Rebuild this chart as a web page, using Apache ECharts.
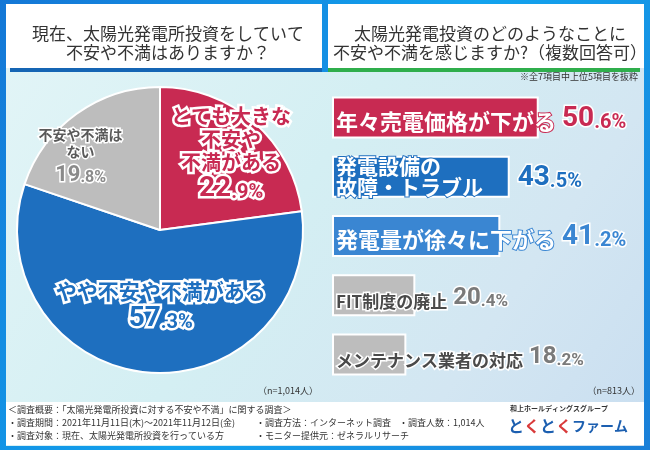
<!DOCTYPE html>
<html><head><meta charset="utf-8">
<script src="https://cdn.jsdelivr.net/npm/echarts@6/dist/echarts.min.js"></script>
<style>html,body{margin:0;padding:0;}#c{width:650px;height:450px;}</style>
</head><body><div id="c"></div>
<script>
const pieNames = ['とても大きな\n不安や\n不満がある', 'やや不安や不満がある', '不安や不満は\nない'];
const pieValues = [22.9, 57.3, 19.8];
const barCategories = ['年々売電価格が下がる', '発電設備の\n故障・トラブル', '発電量が徐々に下がる', 'FIT制度の廃止', 'メンテナンス業者の対応'];
const barValues = [50.6, 43.5, 41.2, 20.4, 18.2];
const leftTitle = '現在、太陽光発電所投資をしていて\n不安や不満はありますか？';
const rightTitle = '太陽光発電投資のどのようなことに\n不安や不満を感じますか?（複数回答可）';

const RED = '#C82A52', BLUE = '#1E6FBF', LBLUE = '#3A86D2', GRAY = '#BDBDBD';
const pieColors = [RED, BLUE, GRAY];
const barColors = [RED, BLUE, LBLUE, GRAY, GRAY];
const valColors = [RED, BLUE, LBLUE, '#7a7a7a', '#7a7a7a'];
const CJK = '"Noto Sans CJK JP", sans-serif';
const NUM = 'Roboto, "Noto Sans CJK JP", sans-serif';

function splitVal(v) {
  const s = v.toFixed(1).split('.');
  return [s[0], '.' + s[1] + '%'];
}

const chart = echarts.init(document.getElementById('c'), null, {renderer: 'canvas'});

const pieLabelDelta = [[22, -20], [8, 2], [-36, -13]];
const pieRich = {
  rt: {fontFamily: CJK, fontWeight: 'bold', fontSize: 20, lineHeight: 23, color: RED, textBorderColor: '#fff', textBorderWidth: 5},
  rb: {fontFamily: NUM, fontWeight: 'bold', fontSize: 28, lineHeight: 30, color: RED, textBorderColor: '#fff', textBorderWidth: 5, verticalAlign: 'bottom'},
  rs: {fontFamily: NUM, fontWeight: 'bold', fontSize: 20, lineHeight: 30, color: RED, textBorderColor: '#fff', textBorderWidth: 5, verticalAlign: 'bottom'},
  bt: {fontFamily: CJK, fontWeight: 'bold', fontSize: 21, lineHeight: 24, color: BLUE, textBorderColor: '#fff', textBorderWidth: 5},
  bb: {fontFamily: NUM, fontWeight: 'bold', fontSize: 28, lineHeight: 30, color: BLUE, textBorderColor: '#fff', textBorderWidth: 5, verticalAlign: 'bottom'},
  bs: {fontFamily: NUM, fontWeight: 'bold', fontSize: 20, lineHeight: 30, color: BLUE, textBorderColor: '#fff', textBorderWidth: 5, verticalAlign: 'bottom'},
  gt: {fontFamily: CJK, fontWeight: 'bold', fontSize: 14, lineHeight: 17, color: '#5a5a5a', textBorderColor: '#fff', textBorderWidth: 3},
  gb: {fontFamily: NUM, fontWeight: 'bold', fontSize: 22, lineHeight: 26, color: '#8a8a8a', textBorderColor: '#fff', textBorderWidth: 3, verticalAlign: 'bottom'},
  gs: {fontFamily: NUM, fontWeight: 'bold', fontSize: 16, lineHeight: 26, color: '#8a8a8a', textBorderColor: '#fff', textBorderWidth: 3, verticalAlign: 'bottom'}
};
const pieKeys = [['rt', 'rb', 'rs'], ['bt', 'bb', 'bs'], ['gt', 'gb', 'gs']];

const barRich = {};
barColors.forEach((c, i) => {
  const isGray = i >= 3;
  barRich['c' + i] = {
    fontFamily: CJK, fontWeight: 'bold', fontSize: isGray ? 17 : (i === 1 ? 21 : 22),
    lineHeight: i === 1 ? 21 : 30,
    color: isGray ? '#4a4a4a' : '#fff',
    textBorderColor: isGray ? '#fff' : c, textBorderWidth: isGray ? 3 : 2,
    verticalAlign: 'bottom'
  };
  barRich['b' + i] = {fontFamily: NUM, fontWeight: 'bold', fontSize: isGray ? 24 : 28, lineHeight: 30,
    color: valColors[i], textBorderColor: '#fff', textBorderWidth: 3, verticalAlign: 'bottom', padding: [0, 0, 0, 6]};
  barRich['s' + i] = {fontFamily: NUM, fontWeight: 'bold', fontSize: isGray ? 17 : 20, lineHeight: 30,
    color: valColors[i], textBorderColor: '#fff', textBorderWidth: 3, verticalAlign: 'bottom'};
});

const footStyle = {fontFamily: CJK, fontSize: 9, fill: '#333'};

const option = {
  animation: false,
  backgroundColor: 'transparent',
  graphic: [
    {type: 'rect', z: -10, shape: {x: 0, y: 0, width: 650, height: 450},
      style: {fill: new echarts.graphic.LinearGradient(0, 0, 1, 1, [{offset: 0, color: '#1477d6'}, {offset: 0.5, color: '#12a3ee'}, {offset: 1, color: '#1a7fd8'}])}},
    {type: 'rect', z: -9, shape: {x: 6, y: 4, width: 638, height: 442},
      style: {fill: new echarts.graphic.LinearGradient(0, 0, 1, 1, [{offset: 0, color: '#e3f5f7'}, {offset: 0.45, color: '#d4eff3'}, {offset: 0.75, color: '#d3e6f2'}, {offset: 1, color: '#c9def0'}])}},
    {type: 'rect', z: -8, shape: {x: 322, y: 0, width: 6, height: 72}, style: {fill: '#1590e4'}},
    {type: 'rect', z: -7, shape: {x: 6, y: 4, width: 316, height: 64}, style: {fill: '#ffffff'}},
    {type: 'rect', z: -7, shape: {x: 10, y: 68, width: 312, height: 4}, style: {fill: '#1565b4'}},
    {type: 'rect', z: -7, shape: {x: 328, y: 4, width: 316, height: 64}, style: {fill: '#ffffff'}},
    {type: 'rect', z: -7, shape: {x: 328, y: 68, width: 312, height: 4}, style: {fill: '#2fae4c'}},
    {type: 'rect', z: -7, shape: {x: 6, y: 402, width: 638, height: 43}, style: {fill: '#ffffff'}},
    {type: 'text', left: 8, top: 405, style: Object.assign({text: '＜調査概要：「太陽光発電所投資に対する不安や不満」に関する調査＞'}, footStyle)},
    {type: 'text', left: 8, top: 418, style: Object.assign({text: '・調査期間：2021年11月11日(木)～2021年11月12日(金)'}, footStyle)},
    {type: 'text', left: 256, top: 418, style: Object.assign({text: '・調査方法：インターネット調査'}, footStyle)},
    {type: 'text', left: 399, top: 418, style: Object.assign({text: '・調査人数：1,014人'}, footStyle)},
    {type: 'text', left: 8, top: 431, style: Object.assign({text: '・調査対象：現在、太陽光発電所投資を行っている方'}, footStyle)},
    {type: 'text', left: 256, top: 431, style: Object.assign({text: '・モニター提供元：ゼネラルリサーチ'}, footStyle)},
    {type: 'text', left: 510, top: 405, style: {text: '和上ホールディングスグループ', fontFamily: CJK, fontSize: 7, fontWeight: 'bold', fill: '#333'}},
    {type: 'text', left: 508, top: 418, style: {
      text: '{b|と}{r|く}{b|と}{r|く}{f|ファーム}',
      rich: {
        b: {fontFamily: CJK, fontWeight: 'bold', fontSize: 16, fill: '#1c5fb0'},
        r: {fontFamily: CJK, fontWeight: 'bold', fontSize: 16, fill: '#d93a3a'},
        f: {fontFamily: CJK, fontWeight: 'bold', fontSize: 14, fill: '#1c5fb0'}
      }}},
    {type: 'text', right: 332, top: 386, style: {text: '（n=1,014人）', fontFamily: CJK, fontSize: 9, fill: '#333'}},
    {type: 'text', right: 10, top: 386, style: {text: '（n=813人）', fontFamily: CJK, fontSize: 9, fill: '#333'}},
    {type: 'text', right: 12, top: 72, style: {text: '※全7項目中上位5項目を抜粋', fontFamily: CJK, fontSize: 9, fill: '#333'}}
  ],
  title: [
    {text: leftTitle, left: 163, top: 19, textAlign: 'center',
      textStyle: {fontFamily: CJK, fontSize: 17, fontWeight: 'normal', color: '#333', lineHeight: 19}},
    {text: rightTitle, left: 485, top: 19, textAlign: 'center',
      textStyle: {fontFamily: CJK, fontSize: 17, fontWeight: 'normal', color: '#333', lineHeight: 19}}
  ],
  grid: {left: 332, right: 32, top: 88, height: 296},
  xAxis: {type: 'value', min: 0, max: 70, show: false},
  yAxis: {type: 'category', data: barCategories, inverse: true, show: false},
  series: [
    {
      type: 'pie', center: [160, 230], radius: 143, startAngle: 90, clockwise: true,
      itemStyle: {borderColor: '#fff', borderWidth: 2},
      data: pieValues.map((v, i) => ({value: v, name: pieNames[i], itemStyle: {color: pieColors[i]}})),
      label: {
        show: true, position: 'inside', rich: pieRich,
        formatter: p => {
          const k = pieKeys[p.dataIndex];
          const parts = splitVal(p.value);
          const names = p.name.split('\n').map(n => '{' + k[0] + '|' + n + '}').join('\n');
          return names + '\n{' + k[1] + '|' + parts[0] + '}{' + k[2] + '|' + parts[1] + '}';
        }
      },
      labelLayout: p => ({dx: pieLabelDelta[p.dataIndex][0], dy: pieLabelDelta[p.dataIndex][1]}),
      labelLine: {show: false}
    },
    {
      type: 'bar', barWidth: 42, barGap: '-100%',
      data: barValues.map((v, i) => ({value: v, itemStyle: {color: barColors[i]}})),
      itemStyle: {borderColor: '#fff', borderWidth: 2},
      label: {
        show: true, position: 'insideLeft', distance: 4, rich: barRich,
        formatter: p => {
          const i = p.dataIndex;
          const cat = barCategories[i];
          if (cat.indexOf('\n') >= 0) {
            return cat.split('\n').map(n => '{c' + i + '|' + n + '}').join('\n');
          }
          const parts = splitVal(p.value);
          return '{c' + i + '|' + cat + '}{b' + i + '|' + parts[0] + '}{s' + i + '|' + parts[1] + '}';
        }
      }
    },
    {
      type: 'bar', barWidth: 42, barGap: '-100%', silent: true,
      itemStyle: {color: 'rgba(0,0,0,0)'},
      data: barValues.map((v, i) => ({
        value: v,
        label: {show: barCategories[i].indexOf('\n') >= 0}
      })),
      label: {
        show: false, position: 'right', distance: 2, rich: barRich,
        formatter: p => {
          const i = p.dataIndex;
          const parts = splitVal(p.value);
          return '{b' + i + '|' + parts[0] + '}{s' + i + '|' + parts[1] + '}';
        }
      }
    }
  ]
};
chart.setOption(option);
</script></body></html>
